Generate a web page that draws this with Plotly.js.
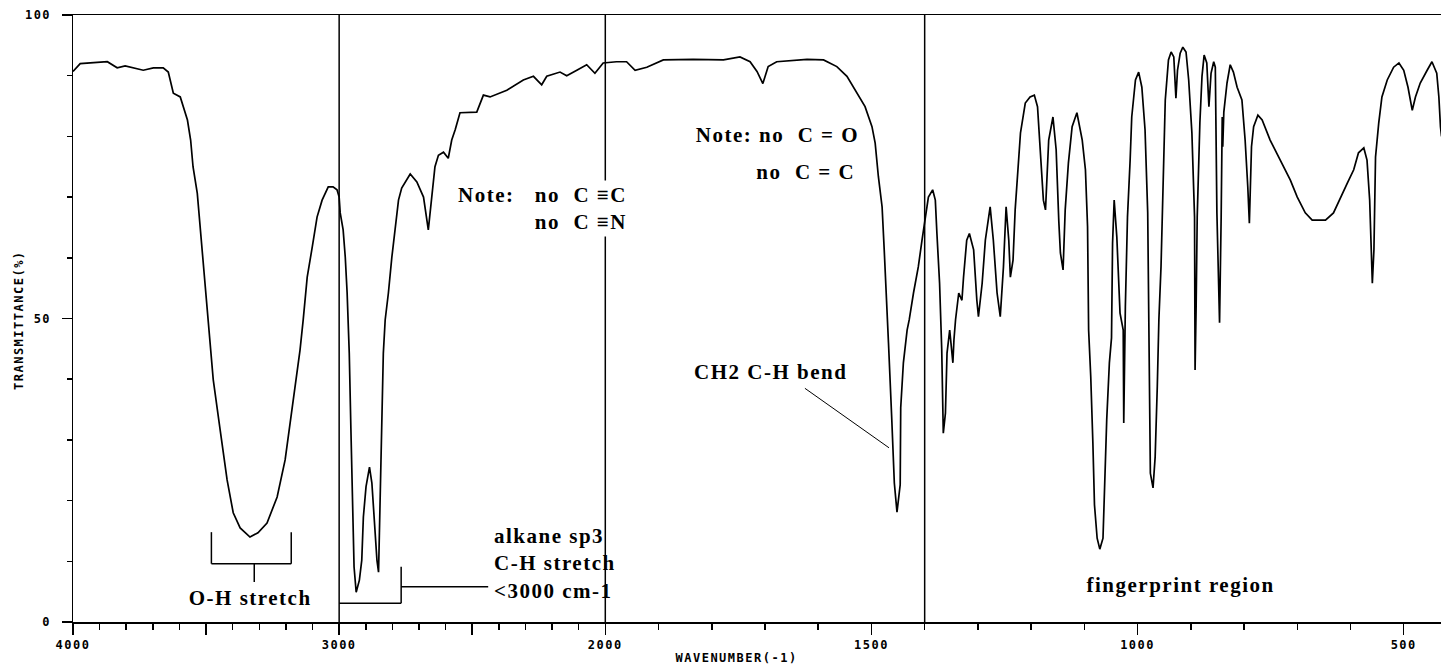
<!DOCTYPE html>
<html><head><meta charset="utf-8">
<script src="https://cdn.plot.ly/plotly-3.0.1.min.js"></script>
<style>
html,body{margin:0;padding:0;background:#fff}
#chart{width:1441px;height:668px}
#chart .annotation-text{letter-spacing:1.5px}
#chart .xtick text,#chart .ytick text{letter-spacing:1.5px}
</style>
</head><body><div id="chart"></div>
<script>
// IR spectrum, wavenumber (cm-1) vs transmittance (%)
const wavenumber = [
4000,3973,3871,3834,3804,3736,3698,3661,3642,3627,3623,3597,3585,3570,3558,3549,3533,3522,3511,3496,
3491,3473,3447,3421,3398,3372,3335,3305,3271,3233,3203,3173,3147,3135,3120,3101,3083,3064,3041,3023,
3008,3000,2996,2985,2977,2970,2962,2956,2949,2944,2936,2924,2915,2909,2899,2886,2877,2869,2858,2852,
2846,2840,2834,2827,2815,2802,2790,2777,2765,2733,2708,2683,2665,2652,2640,2627,2608,2590,2577,2564,
2546,2483,2471,2458,2433,2370,2308,2270,2239,2220,2170,2145,2107,2070,2039,2008,1979,1960,1944,1922,
1891,1847,1835,1778,1747,1728,1715,1704,1694,1678,1621,1590,1565,1546,1527,1512,1499,1493,1487,1480,
1476,1471,1468,1462,1457,1452,1446,1445,1440,1433,1429,1421,1412,1405,1399,1393,1385,1380,1377,1372,
1368,1365,1361,1358,1353,1347,1345,1342,1336,1330,1327,1321,1316,1308,1302,1299,1292,1286,1277,1271,
1264,1258,1252,1247,1242,1239,1234,1230,1220,1211,1202,1194,1188,1183,1177,1173,1167,1159,1153,1148,
1145,1140,1136,1130,1123,1114,1104,1098,1094,1092,1088,1084,1081,1076,1071,1065,1062,1058,1053,1049,
1047,1044,1039,1036,1033,1027,1026,1023,1019,1014,1011,1004,998,992,986,981,979,978,976,971,
967,963,960,956,951,948,942,937,932,928,925,920,915,909,904,898,893,892,890,888,
883,879,875,870,866,862,857,854,851,846,843,841,840,838,832,826,820,813,804,798,
793,790,786,782,774,766,751,732,713,700,685,672,647,632,619,606,594,585,575,569,
564,561,559,556,553,547,541,531,519,509,500,492,487,484,478,469,456,447,438,434,
431,429];
const transmittance = [
90.7,92.0,92.3,91.3,91.6,90.9,91.3,91.3,90.6,88.0,87.1,86.5,84.9,82.7,79.4,75.0,70.6,65.1,58.5,51.4,
49.8,39.9,31.6,23.4,18.0,15.5,14.0,14.7,16.3,20.6,26.7,36.1,44.8,49.8,56.8,61.8,66.7,69.5,71.7,71.7,
71.2,70.0,67.4,64.6,60.1,54.2,44.3,32.1,18.0,9.1,4.9,6.9,10.2,17.3,22.3,25.5,22.9,16.8,10.2,8.2,
20.6,35.4,44.3,49.8,54.2,60.1,65.1,69.5,71.5,73.8,72.5,70.0,64.6,69.5,75.0,76.9,77.4,76.4,79.4,81.1,
83.9,84.0,85.5,86.8,86.5,87.6,89.3,89.9,88.5,89.9,90.6,90.0,90.9,91.8,90.4,92.1,92.3,92.3,90.9,91.4,
92.6,92.7,92.7,92.6,93.1,92.3,90.7,88.7,91.5,92.3,92.7,92.6,91.5,89.9,87.1,84.9,81.6,78.9,73.4,68.4,
61.3,53.0,46.0,33.8,22.9,18.1,22.6,35.3,42.7,48.1,49.8,54.2,58.5,62.9,66.7,70.0,71.2,69.5,64.0,55.8,
45.0,31.1,34.4,44.3,48.1,42.7,46.5,49.8,54.2,53.0,56.8,62.9,64.0,61.3,53.0,50.3,55.8,62.9,68.4,62.9,
54.2,50.3,58.5,68.4,62.9,56.8,59.6,67.9,80.6,85.5,86.5,86.8,84.9,77.3,69.5,67.9,79.4,83.2,77.8,66.0,
60.8,58.0,67.9,75.6,81.6,83.9,79.4,74.5,65.1,48.1,40.4,29.5,19.3,13.8,12.0,13.8,22.3,33.3,42.7,46.8,
62.4,69.5,63.4,56.8,50.9,48.1,32.8,51.9,66.7,76.1,83.2,89.3,90.6,88.1,81.1,67.4,48.1,40.4,24.5,22.1,
27.2,38.8,49.8,58.5,76.1,86.0,92.6,93.9,93.1,86.3,90.9,93.7,94.7,93.9,89.3,80.6,66.7,41.5,52.0,66.7,
82.2,89.9,93.4,92.1,84.9,90.4,92.3,91.4,67.4,49.3,66.7,83.2,78.3,84.0,88.8,91.8,90.6,88.1,86.0,79.4,
71.7,65.7,78.3,81.6,83.5,82.7,79.4,76.1,72.8,70.0,67.4,66.2,66.2,67.4,70.0,72.3,74.5,77.3,78.1,76.1,
69.5,61.3,55.8,61.3,76.6,82.2,86.5,89.3,91.4,92.1,90.9,88.1,86.0,84.3,86.5,88.8,90.9,92.3,90.4,86.5,
81.6,80.0];

const xTickValues = [4000,3500,3000,2500,2000,1500,1000,500];
const xTickLabels = ['4000','','3000','','2000','1500','1000','500'];
const xMinorValues = [3900,3800,3700,3600,3400,3300,3200,3100,2900,2800,2700,2600,2400,2300,2200,2100,
  1900,1800,1700,1600,1400,1300,1200,1100,900,800,700,600];
const yTickValues = [0,50,100];
const yTickLabels = ['0','50','100'];
const regionLines = [3000,2000,1400];

// the chart's x axis changes scale at 2000 cm-1 (twice as wide per wavenumber below 2000)
function u(w){ return w >= 2000 ? 4000 - w : 2000 + (2000 - w) * 2; }

const black = '#000';
const pixFont = {family:'DejaVu Sans Mono', size:12, color:black, weight:'bold'};
const noteFont = {family:'Liberation Serif', size:21, color:black, weight:'bold'};
const sp = '\u00a0';

const shapes = [];
regionLines.forEach(w => shapes.push({type:'line', xref:'x', yref:'y', x0:u(w), x1:u(w), y0:0, y1:100,
  line:{color:black, width:1.5}, layer:'below'}));
function seg(w0, v0, w1, v1, width){
  shapes.push({type:'line', xref:'x', yref:'y', x0:u(w0), x1:u(w1), y0:v0, y1:v1, line:{color:black, width:width||1.5}});
}
// O-H bracket
seg(3480,14.8,3480,9.6); seg(3480,9.6,3180,9.6); seg(3180,9.6,3180,14.8); seg(3319,9.6,3319,6.6);
// alkane bracket
seg(3000,3.1,2767,3.1); seg(2767,3.1,2767,9.1); seg(2767,5.8,2440,5.8);
// CH2 bend leader
seg(1625,38.5,1467,28.7,1);

const annotations = [
  {x:u(3334), y:4.0, text:'O-H stretch', xanchor:'center', yanchor:'middle'},
  {x:u(2428), y:9.7, text:'alkane sp3<br>C-H stretch<br>&lt;3000 cm-1', xanchor:'left', yanchor:'middle', align:'left', bgcolor:'#fff'},
  {x:u(1953), y:68.1, text:'Note:'+sp+sp+sp+'no'+sp+sp+'C'+sp+'\u2261C<br>no'+sp+sp+'C'+sp+'\u2261N', xanchor:'right', yanchor:'middle', align:'right', bgcolor:'#fff'},
  {x:u(1538), y:80.2, text:'Note:'+sp+'no'+sp+sp+'C'+sp+'='+sp+'O', xanchor:'right', yanchor:'middle'},
  {x:u(1539), y:74.1, text:'no'+sp+sp+'C'+sp+'='+sp+'C', xanchor:'right', yanchor:'middle'},
  {x:u(1689), y:41.2, text:'CH2'+sp+'C-H bend', xanchor:'center', yanchor:'middle'},
  {x:u(918), y:6.1, text:'fingerprint region', xanchor:'center', yanchor:'middle'}
].map(a => Object.assign({xref:'x', yref:'y', showarrow:false, font:noteFont, borderpad:2}, a));

annotations.push({xref:'paper', yref:'paper', x:(19-73)/1368, y:(622-320)/607, text:'TRANSMITTANCE(%)',
  textangle:-90, showarrow:false, xanchor:'center', yanchor:'middle', font:{family:'DejaVu Sans Mono', size:12, color:black, weight:'bold'}});
annotations.push({xref:'paper', yref:'paper', x:(736-73)/1368, y:(622-658)/607, text:'WAVENUMBER(-1)',
  showarrow:false, xanchor:'center', yanchor:'middle', font:{family:'DejaVu Sans Mono', size:12, color:black, weight:'bold'}});

const trace = {x: wavenumber.map(u), y: transmittance, type:'scatter', mode:'lines',
  line:{color:black, width:1.7}, hoverinfo:'skip'};

const layout = {
  width:1441, height:668,
  margin:{l:73, r:0, t:15, b:46},
  paper_bgcolor:'#fff', plot_bgcolor:'#fff', showlegend:false,
  xaxis:{range:[0,5140], tickmode:'array', tickvals:xTickValues.map(u), ticktext:xTickLabels,
    ticks:'outside', ticklen:11, tickwidth:1.5, tickcolor:black, showline:true, linecolor:black, linewidth:1.5,
    mirror:true, showgrid:false, zeroline:false, tickfont:pixFont, fixedrange:true,
    minor:{tickmode:'array', tickvals:xMinorValues.map(u), ticks:'outside', ticklen:6, tickwidth:1.5, tickcolor:black, showgrid:false}},
  yaxis:{range:[0,100], tickmode:'array', tickvals:yTickValues, ticktext:yTickLabels,
    ticks:'outside', ticklen:10, tickwidth:1.5, tickcolor:black, showline:true, linecolor:black, linewidth:1.5,
    showgrid:false, zeroline:false, tickfont:pixFont, fixedrange:true, ticklabelstandoff:8,
    minor:{tickmode:'linear', tick0:0, dtick:10, ticks:'outside', ticklen:5, tickwidth:1.5, tickcolor:black, showgrid:false}},
  shapes: shapes,
  annotations: annotations
};

Plotly.newPlot('chart', [trace], layout, {staticPlot:true, displayModeBar:false});
</script></body></html>
